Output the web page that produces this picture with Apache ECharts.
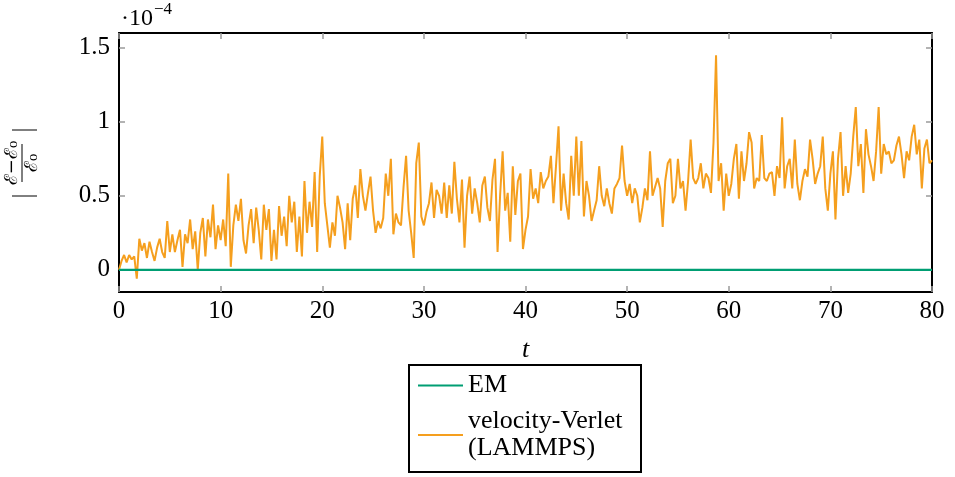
<!DOCTYPE html>
<html><head><meta charset="utf-8">
<script src="https://cdn.jsdelivr.net/npm/echarts@6/dist/echarts.min.js"></script>
<style>html,body{margin:0;padding:0;background:#fff}#c{width:955px;height:477px}</style>
</head><body><div id="c"></div>
<script>
// ---- data (values in units of 1e-4) ----
const xTicks = [0, 10, 20, 30, 40, 50, 60, 70, 80];
const yTicks = [0, 0.5, 1, 1.5];
const tStart = 0;
const tStep = 0.25;
const emT = [0, 80];
const emV = [0, 0];
const vv00 = [0,0.06,0.1,0.05,0.1,0.07,0.09,-0.06,0.21,0.13,0.18,0.08,0.19,0.12,0.06,0.15,0.21,0.12,0.08,0.33,0.12,0.24,0.12,0.2,0.27,0.02,0.24,0.18,0.34,0.14,0.26,0.0,0.25,0.35,0.09,0.34,0.22,0.44,0.14,0.3];
const vv10 = [0.2,0.34,0.16,0.65,0.02,0.3,0.44,0.33,0.48,0.2,0.11,0.3,0.41,0.18,0.42,0.27,0.07,0.44,0.27,0.41,0.06,0.27,0.07,0.43,0.23,0.36,0.16,0.5,0.32,0.46,0.12,0.36,0.09,0.6,0.25,0.46,0.29,0.66,0.12,0.63];
const vv20 = [0.9,0.45,0.3,0.15,0.32,0.23,0.5,0.42,0.32,0.14,0.45,0.2,0.48,0.57,0.35,0.68,0.5,0.4,0.52,0.63,0.4,0.25,0.33,0.28,0.35,0.65,0.5,0.75,0.24,0.38,0.32,0.3,0.56,0.77,0.4,0.25,0.08,0.72,0.86,0.36];
const vv30 = [0.3,0.39,0.45,0.59,0.35,0.54,0.5,0.38,0.59,0.35,0.57,0.38,0.73,0.48,0.32,0.61,0.15,0.5,0.63,0.38,0.55,0.45,0.32,0.57,0.63,0.42,0.33,0.61,0.75,0.12,0.5,0.8,0.4,0.52,0.19,0.7,0.37,0.6,0.65,0.14];
const vv40 = [0.27,0.36,0.68,0.48,0.55,0.45,0.66,0.55,0.6,0.63,0.77,0.45,0.7,0.97,0.4,0.65,0.45,0.34,0.77,0.5,0.9,0.5,0.87,0.36,0.6,0.5,0.33,0.4,0.47,0.7,0.5,0.43,0.55,0.45,0.38,0.55,0.58,0.62,0.84,0.6];
const vv50 = [0.5,0.58,0.45,0.55,0.5,0.32,0.42,0.55,0.47,0.8,0.5,0.56,0.62,0.55,0.29,0.6,0.72,0.75,0.45,0.5,0.75,0.55,0.6,0.4,0.6,0.88,0.62,0.58,0.62,0.72,0.55,0.65,0.62,0.52,0.86,1.45,0.6,0.72,0.4,0.65];
const vv60 = [0.5,0.58,0.75,0.85,0.48,0.8,0.6,0.72,0.93,0.86,0.55,0.62,0.6,0.91,0.62,0.6,0.65,0.66,0.5,0.7,0.62,1.03,0.55,0.7,0.75,0.55,0.88,0.58,0.47,0.6,0.68,0.63,0.88,0.75,0.58,0.65,0.7,0.9,0.55,0.4];
const vv70 = [0.65,0.8,0.34,0.75,0.93,0.5,0.7,0.52,0.65,0.9,1.1,0.7,0.85,0.52,0.95,0.78,0.7,0.6,0.8,1.1,0.65,0.85,0.78,0.8,0.72,0.74,0.84,0.9,0.78,0.62,0.8,0.74,0.9,0.98,0.78,0.88,0.55,0.82,0.88,0.72,0.74];
const seriesNames = ['EM', 'velocity-Verlet\n(LAMMPS)'];

const vvValues = [].concat(vv00, vv10, vv20, vv30, vv40, vv50, vv60, vv70);
const vvData = vvValues.map((v, i) => [tStart + i * tStep, v]);
const emData = emT.map((t, i) => [t, emV[i]]);

const FONT = '"Liberation Serif", "DejaVu Serif", serif';
const frame = {show: true, onZero: false, lineStyle: {color: '#000', width: 2}};
const tick = {show: true, inside: true, length: 6, lineStyle: {color: '#9a9a9a', width: 1.5}};
const legendBase = {
  orient: 'vertical', padding: 0, itemGap: 0, itemWidth: 45, itemHeight: 2, icon: 'rect',
  textStyle: {fontFamily: FONT, fontSize: 26, color: '#000', lineHeight: 27}
};

const chart = echarts.init(document.getElementById('c'), null, {renderer: 'canvas'});
chart.setOption({
  animation: false,
  backgroundColor: '#fff',
  grid: {left: 119, right: 23, top: 33, bottom: 185, containLabel: false},
  xAxis: [
    {type: 'value', min: 0, max: 80, interval: 10, position: 'bottom',
     axisLine: frame, axisTick: tick, splitLine: {show: false},
     axisLabel: {fontSize: 25, fontFamily: FONT, color: '#000', margin: 7},
     name: 't', nameLocation: 'middle', nameGap: 45,
     nameTextStyle: {fontStyle: 'italic', fontSize: 26, fontFamily: FONT, color: '#000'}},
    {type: 'value', min: 0, max: 80, interval: 10, position: 'top',
     axisLine: frame, axisTick: tick, splitLine: {show: false}, axisLabel: {show: false}}
  ],
  yAxis: [
    {type: 'value', min: -0.15, max: 1.6, position: 'left',
     axisLine: frame, axisTick: Object.assign({}, tick, {customValues: yTicks}),
     splitLine: {show: false},
     axisLabel: {customValues: yTicks, fontSize: 25, fontFamily: FONT, color: '#000', margin: 9,
                 formatter: v => String(v)}},
    {type: 'value', min: -0.15, max: 1.6, position: 'right',
     axisLine: frame, axisTick: Object.assign({}, tick, {customValues: yTicks}),
     splitLine: {show: false}, axisLabel: {show: false}}
  ],
  legend: [
    Object.assign({}, legendBase, {left: 418, top: 372, data: [seriesNames[0]]}),
    Object.assign({}, legendBase, {left: 418, top: 408, data: [seriesNames[1]]})
  ],
  series: [
    {name: seriesNames[1], type: 'line', data: vvData, symbol: 'none', z: 2,
     lineStyle: {color: '#f59f1e', width: 2}, itemStyle: {color: '#f59f1e'}},
    {name: seriesNames[0], type: 'line', data: emData, symbol: 'none', z: 3,
     lineStyle: {color: '#009e73', width: 2.2}, itemStyle: {color: '#009e73'}}
  ],
  graphic: [
    {type: 'rect', shape: {x: 409, y: 365, width: 232, height: 107},
     style: {fill: null, stroke: '#000', lineWidth: 2}, z: 100},
    {type: 'text', x: 121, y: 7, style: {text: '·10', font: '24px ' + FONT, fill: '#000'}},
    {type: 'text', x: 154, y: 1, style: {text: '−4', font: '17px ' + FONT, fill: '#000'}},
    {type: 'group', x: 22, y: 163, rotation: Math.PI / 2, children: [
      {type: 'text', x: 0, y: -1, style: {text: 'ℰ−ℰ₀', font: '18px "DejaVu Serif", serif', fill: '#000', align: 'center', verticalAlign: 'bottom'}},
      {type: 'line', shape: {x1: -19, y1: 0, x2: 19, y2: 0}, style: {stroke: '#000', lineWidth: 1}},
      {type: 'text', x: 0, y: 1, style: {text: 'ℰ₀', font: '18px "DejaVu Serif", serif', fill: '#000', align: 'center', verticalAlign: 'top'}},
      {type: 'line', shape: {x1: -33, y1: -10, x2: -33, y2: 15}, style: {stroke: '#000', lineWidth: 1}},
      {type: 'line', shape: {x1: 33, y1: -10, x2: 33, y2: 15}, style: {stroke: '#000', lineWidth: 1}}
    ]}
  ]
});
</script></body></html>
